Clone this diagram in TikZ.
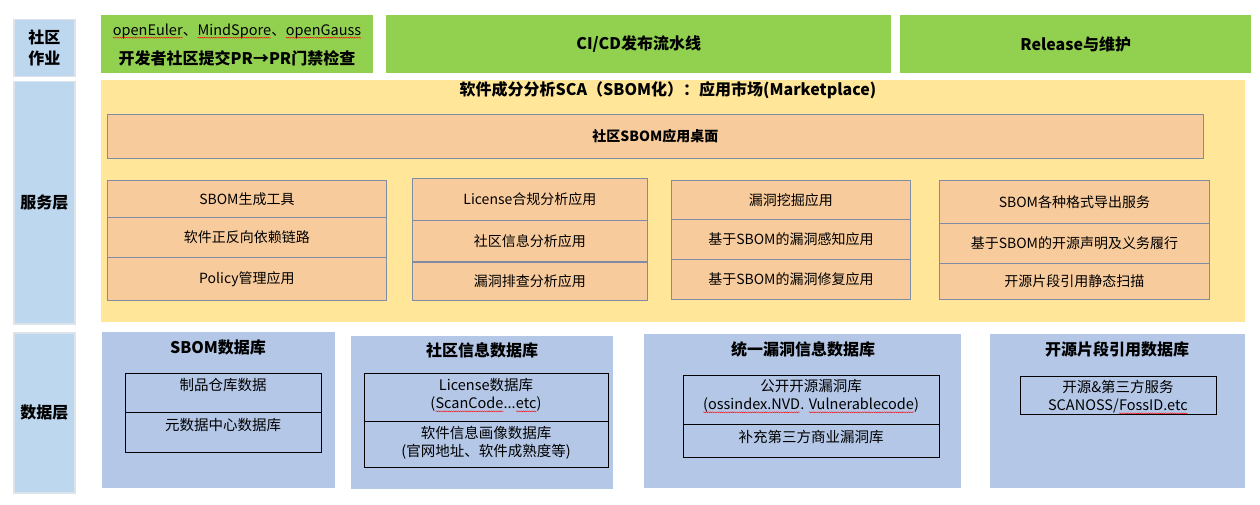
\documentclass[tikz,border=0pt]{standalone}
\usepackage{fontspec}
\setmainfont{Noto Sans CJK SC}
\usetikzlibrary{decorations.pathmorphing}
\newcommand\spl[1]{\tikz[baseline=(w.base)]{\node[inner sep=0pt,outer sep=0pt,anchor=base](w){#1};\draw[red,line width=0.4pt,decorate,decoration={snake,amplitude=0.5pt,segment length=2.2pt}]([yshift=-2.6pt]w.base west)--([yshift=-2.6pt]w.base east);}}
\definecolor{grn}{HTML}{92D050}
\definecolor{lblue}{HTML}{BDD7EE}
\definecolor{labline}{HTML}{DCE3EA}
\definecolor{yel}{HTML}{FFE699}
\definecolor{peach}{HTML}{F8CB9C}
\definecolor{cellline}{HTML}{7F8CA3}
\definecolor{dblue}{HTML}{B4C7E7}
\begin{document}
\begin{tikzpicture}[x=1pt,y=-1pt,
  lab/.style={draw=labline, line width=1.5pt, fill=lblue, anchor=north west, inner sep=0pt},
  labtxt/.style={align=center, inner sep=0pt, font=\fontsize{16}{21}\selectfont\bfseries},
  gbox/.style={fill=grn, anchor=north west, inner sep=0pt, align=center, font=\fontsize{16}{19}\selectfont\bfseries},
  cell/.style={draw=cellline, line width=0.8pt, fill=peach, anchor=north west, inner sep=0pt, font=\fontsize{14}{16}\selectfont},
  dbblk/.style={fill=dblue, anchor=north west, inner sep=0pt},
  dbcell/.style={draw=black, line width=0.9pt, anchor=north west, inner sep=0pt},
  ttl/.style={inner sep=0pt, font=\fontsize{16}{19}\selectfont\bfseries},
  txt/.style={inner sep=0pt, align=center, font=\fontsize{14.5}{18.5}\selectfont}]
\useasboundingbox[fill=white] (0,0) rectangle (1260,505);

% left labels
\node[lab, minimum width=61pt, minimum height=57pt] (l1) at (13,19) {};
\node[labtxt] (l1t) at (l1.center) {社区\\作业};
\node[lab, minimum width=61pt, minimum height=242pt] (l2) at (13,81) {};
\node[labtxt] (l2t) at (l2.center) {服务层};
\node[lab, minimum width=61pt, minimum height=160pt] (l3) at (13,332) {};
\node[labtxt] (l3t) at (l3.center) {数据层};

% top green
\node[gbox, minimum width=272pt, minimum height=58pt] (g1) at (101,15) {};
\node[inner sep=0pt, font=\fontsize{14.5}{17}\selectfont] (g1a) at (237,31) {\spl{openEuler}、\spl{MindSpore}、\spl{openGauss}};
\node[inner sep=0pt, font=\fontsize{16}{19}\selectfont\bfseries] (g1b) at (237,58) {开发者社区提交PR→PR门禁检查};
\node[gbox, minimum width=505pt, minimum height=58pt] (g2) at (386,15) {CI/CD发布流水线};
\node[gbox, minimum width=351pt, minimum height=58pt] (g3) at (900,15) {Release与维护};

% service layer
\node[fill=yel, anchor=north west, inner sep=0pt, minimum width=1144pt, minimum height=242pt] (svc) at (101,80) {};
\node[ttl] (svct) at (668,90) {软件成分分析SCA（SBOM化）：应用市场(Marketplace)};
\node[cell, minimum width=1096pt, minimum height=44pt, font=\fontsize{14}{16}\selectfont\bfseries] (desk) at (107,114) {社区SBOM应用桌面};

\node[cell, minimum width=279pt, minimum height=37pt] (a1) at (107,180) {SBOM生成工具};
\node[cell, minimum width=279pt, minimum height=40pt] (a2) at (107,217) {软件正反向依赖链路};
\node[cell, minimum width=279pt, minimum height=43pt] (a3) at (107,257) {Policy管理应用};

\node[cell, minimum width=235pt, minimum height=42pt] (b1) at (412,178) {License合规分析应用};
\node[cell, minimum width=235pt, minimum height=41pt] (b2) at (412,220) {社区信息分析应用};
\node[cell, minimum width=235pt, minimum height=38pt] (b3) at (412,262) {漏洞排查分析应用};

\node[cell, minimum width=239pt, minimum height=39pt] (c1) at (671,180) {漏洞挖掘应用};
\node[cell, minimum width=239pt, minimum height=40pt] (c2) at (671,219) {基于SBOM的漏洞感知应用};
\node[cell, minimum width=239pt, minimum height=40pt] (c3) at (671,259) {基于SBOM的漏洞修复应用};

\node[cell, minimum width=270pt, minimum height=43pt] (d1) at (939,180) {SBOM各种格式导出服务};
\node[cell, minimum width=270pt, minimum height=40pt] (d2) at (939,223) {基于SBOM的开源声明及义务履行};
\node[cell, minimum width=270pt, minimum height=36pt] (d3) at (939,263) {开源片段引用静态扫描};

% data layer
\node[dbblk, minimum width=233pt, minimum height=156pt] (e) at (102,332) {};
\node[ttl] (et) at (218,347) {SBOM数据库};
\node[dbcell, minimum width=196pt, minimum height=39pt] (e1) at (125,373) {};
\node[dbcell, minimum width=196pt, minimum height=40pt] (e2) at (125,412) {};
\node[txt] (e1t) at (223,385) {制品仓库数据};
\node[txt] (e2t) at (223,425) {元数据中心数据库};

\node[dbblk, minimum width=262pt, minimum height=153pt] (f) at (351,336) {};
\node[ttl] (ft) at (482,350) {社区信息数据库};
\node[dbcell, minimum width=244pt, minimum height=48pt] (f1) at (364,373) {};
\node[dbcell, minimum width=244pt, minimum height=46pt] (f2) at (364,421) {};
\node[txt] (f1t) at (486,395) {License数据库\\(\spl{ScanCode}...\spl{etc})};
\node[txt] (f2t) at (486,443) {软件信息画像数据库\\(官网地址、软件成熟度等)};

\node[dbblk, minimum width=317pt, minimum height=154pt] (h) at (644,334) {};
\node[ttl] (ht) at (803,349) {统一漏洞信息数据库};
\node[dbcell, minimum width=256pt, minimum height=49pt] (h1) at (683,375) {};
\node[dbcell, minimum width=256pt, minimum height=33pt] (h2) at (683,424) {};
\node[txt] (h1t) at (811,396) {公开开源漏洞库\\\spl{(ossindex.NVD}. \spl{Vulnerablecode})};
\node[txt] (h2t) at (811,437) {补充第三方商业漏洞库};

\node[dbblk, minimum width=255pt, minimum height=154pt] (k) at (990,334) {};
\node[ttl] (kt) at (1117,349) {开源片段引用数据库};
\node[dbcell, minimum width=196pt, minimum height=38pt] (k1) at (1020,376) {};
\node[txt] (k1t) at (1118,397) {开源\&第三方服务\\SCANOSS/\spl{FossID.etc}};
\end{tikzpicture}
\end{document}
